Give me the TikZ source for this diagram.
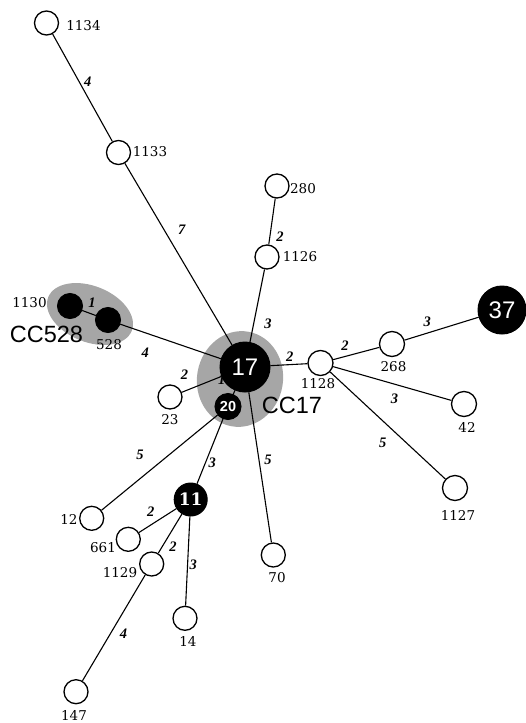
\documentclass[tikz,border=0pt]{standalone}
\usepackage{fontspec}
\setmainfont{DejaVu Serif}
\newfontfamily\sansf{Liberation Sans}
\newfontfamily\wtf{Liberation Serif}
\begin{document}
\begin{tikzpicture}[x=1pt,y=-1pt,
  wc/.style={circle, draw=black, line width=1.3pt, fill=white, minimum size=#1, inner sep=0pt},
  wc/.default=24pt,
  bc/.style={circle, draw=black, fill=black, line width=1pt, minimum size=#1, inner sep=0pt, text=white},
  lbl/.style={font=\fontsize{13.5}{13.5}\selectfont, inner sep=0pt},
  cclbl/.style={font=\sansf\fontsize{23.5}{24}\selectfont, inner sep=0pt},
  wt/.style={font=\wtf\bfseries\itshape\fontsize{14.5}{14.5}\selectfont, inner sep=#1, auto},
  wt/.default=2pt,
  edge/.style={line width=1.1pt},
  blob/.style={fill=black!35}
]
\useasboundingbox (0,0) rectangle (526,723);

% clonal complex backgrounds
\fill[blob, rotate around={-22:(90,314)}] (90,314) ellipse [x radius=45pt, y radius=28pt];
\fill[blob, rotate around={-10:(240,379)}] (240,379) ellipse [x radius=43pt, y radius=48pt];

% nodes
\node[wc] (n1134) at (46.5,23) {};
\node[wc] (n1133) at (118.5,152.5) {};
\node[wc] (n280) at (277,186) {};
\node[wc] (n1126) at (267,257) {};
\node[bc=25pt] (n1130) at (70,306) {};
\node[bc=25pt] (n528) at (108,320) {};
\node[bc=50pt, font=\sansf\fontsize{24}{24}\selectfont] (n17) at (245,367) {17};
\node[bc=26pt, font=\sansf\bfseries\fontsize{14.5}{14.5}\selectfont] (n20) at (228,406.5) {20};
\node[wc] (n23) at (170,397) {};
\node[wc=25pt] (n1128) at (320.5,363) {};
\node[wc=25pt] (n268) at (392,344) {};
\node[bc=48pt, font=\sansf\fontsize{24}{24}\selectfont] (n37) at (502,310) {37};
\node[wc=25pt] (n42) at (464,404) {};
\node[wc=25pt] (n1127) at (455,488) {};
\node[wc] (n12) at (91.7,518.3) {};
\node[bc=33pt, font=\bfseries\fontsize{17}{17}\selectfont] (n11) at (190.7,499.5) {11};
\node[wc] (n661) at (128.3,539.3) {};
\node[wc] (n1129) at (151.7,564) {};
\node[wc] (n14) at (185,618.3) {};
\node[wc] (n70) at (273.3,555) {};
\node[wc] (n147) at (76,691.7) {};

% node labels
\node[lbl] (t1134) at (83.5,26) {1134};
\node[lbl] (t1133) at (150,152) {1133};
\node[lbl] (t280) at (303,188.5) {280};
\node[lbl] (t1126) at (300,257) {1126};
\node[lbl] (t1130) at (29.5,303) {1130};
\node[lbl] (t528) at (109,345) {528};
\node[lbl] (t1128) at (318,384) {1128};
\node[lbl] (t268) at (393.5,366.5) {268};
\node[lbl] (t42) at (467,427) {42};
\node[lbl] (t1127) at (458,515) {1127};
\node[lbl] (t23) at (170,420) {23};
\node[lbl] (t12) at (69,519) {12};
\node[lbl] (t661) at (103,548) {661};
\node[lbl] (t1129) at (120,572.7) {1129};
\node[lbl] (t14) at (188,641) {14};
\node[lbl] (t70) at (277,578) {70};
\node[lbl] (t147) at (74,715) {147};
\node[cclbl] (tcc528) at (46.5,334.5) {CC528};
\node[cclbl] (tcc17) at (292,405) {CC17};

% connectors with distances
\draw[edge] (n1134) -- node[wt=1pt, pos=.50] {4} (n1133);
\draw[edge] (n1133) -- node[wt=6.5pt, pos=.43] {7} (n17);
\draw[edge] (n280) -- node[wt=4.5pt, pos=.61] {2} (n1126);
\draw[edge] (n1126) -- node[wt=7.5pt, pos=.57] {3} (n17);
\draw[edge] (n1130) -- node[wt=3pt, pos=.2] {1} (n528);
\draw[edge] (n528) -- node[wt=10pt, pos=.39, swap] {4} (n17);
\draw[edge] (n17) -- node[wt=2.5pt, pos=.70] {2} (n1128);
\draw[edge] (n1128) -- node[wt=3.5pt, pos=.42] {2} (n268);
\draw[edge] (n268) -- node[wt=3.5pt, pos=.41] {3} (n37);
\draw[edge] (n1128) -- node[wt=6.5pt, pos=.61, swap] {3} (n42);
\draw[edge] (n1128) -- node[wt=6.5pt, pos=.55, swap] {5} (n1127);
\draw[edge] (n17) -- node[wt=7pt, pos=.65, swap] {2} (n23);
\draw[edge] (n17) -- node[wt=8pt, pos=.6, swap] {1} (n20);
\draw[edge] (n20) -- node[wt=8.5pt, pos=.56, swap] {5} (n12);
\draw[edge] (n20) -- node[wt=0.5pt, pos=.59] {3} (n11);
\draw[edge] (n17) -- node[wt=3.5pt, pos=.51] {5} (n70);
\draw[edge] (n11) -- node[wt=3.5pt, pos=.48, swap] {2} (n661);
\draw[edge] (n11) -- node[wt=2pt, pos=.64] {2} (n1129);
\draw[edge] (n11) -- node[wt=1.5pt, pos=.54] {3} (n14);
\draw[edge] (n1129) -- node[wt=3.5pt, pos=.47] {4} (n147);
\end{tikzpicture}
\end{document}
